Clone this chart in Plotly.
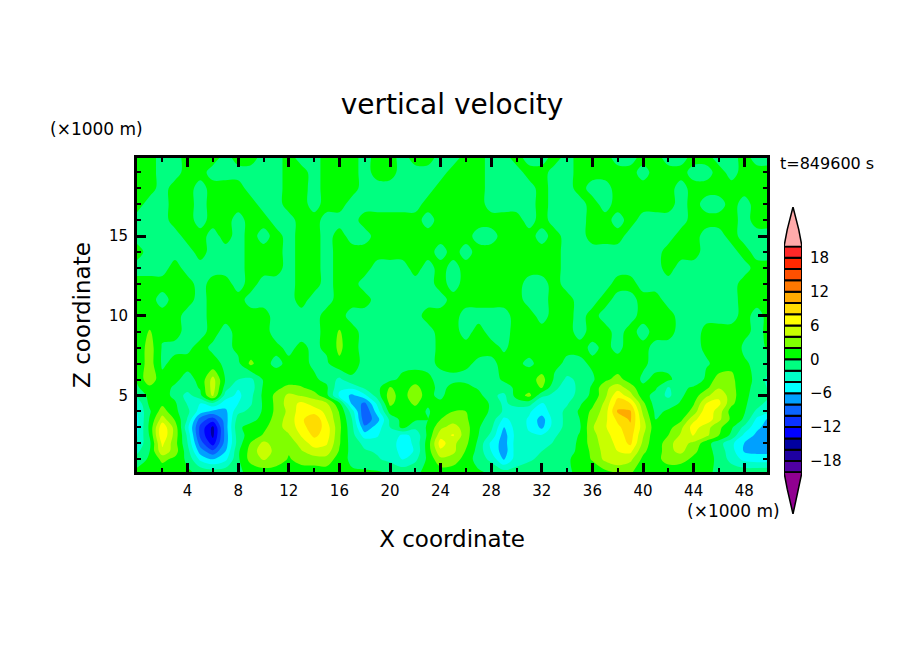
import plotly.graph_objects as go

# grid (km), closer rows where the cells are
x_km = list(range(51))
z_km = [0.2, 1, 1.5, 2, 2.5, 3, 3.5, 4, 4.5, 5, 5.5, 6, 7, 8, 9, 10, 11, 12, 13, 14, 15, 16, 17, 18, 19, 19.9]

# weak values, above and below the zero contour
g, s = 0.5, -0.5

w_rows = [
    [.5, .6, .8, .8, .3, -.5, -1, -.8, -.3, .5,
     1, 1, .8, 1, 1, 1, .5, .3, .3, .2,
     -.3, -.6, -.3, .4, 1, 1, .8, .3, -.4, -1.2,
     -1.3, -.8, -.6, -.5, -.2, .3, .8, 1.5, 2.3, 2.2,
     1.2, .8, .6, .5, .4, .2, -.2, -.6, -.8, -.6, -.5],
    [-1, .3, 2.5, 1.5, -.5, -4.5, -6, -4.5, -.3, 2.8,
     4.2, 3.2, 1.8, 2.8, 3, 3.2, 1, -.5, -1.2, -1.8,
     -2.5, -4.2, -2.5, .5, 3.5, 3, 1.2, -1, -2.5, -6.2,
     -3, -2.3, -1.5, -1.2, -.3, .8, 2.2, 4.5, 5.5, 4.5,
     1.5, 1.2, 3, 2.8, 1.5, .8, -.5, -2.8, -4.5, -5, -5],
    [-2.5, 0, 5.5, 3, -1.2, -7, -9.5, -6, -.3, 2.8,
     5.3, 3.3, 2.2, 3.8, 5.3, 5, 1.8, -.8, -1.8, -2.2,
     -2.5, -5, -3.8, 1, 5.5, 4.5, 1.8, -.8, -4, -7.2,
     -3, -2.5, -2, -1.5, -.8, .5, 2.5, 4.8, 6, 6.5,
     2.5, .5, 3.5, 4.5, 2.5, .8, -.8, -3.2, -6.2, -6.5, -6.5],
    [-3.5, -.5, 6.5, 2.8, -2, -9, -13, -7, -1, 2.2,
     4.5, 3.2, 2.5, 5, 6.8, 6.2, 2.2, -1, -2.5, -3.2,
     -2.8, -5.2, -3.5, 1, 7, 4.5, 2.5, -.5, -4.5, -7,
     -3, -3, -2.8, -1.8, -1.2, .5, 3, 5, 6.5, 8.5,
     3.5, .3, 3.5, 4.8, 3.5, .8, -1.2, -3.5, -6, -7.5, -7.5],
    [-4.2, .2, 7.8, 3.2, -2.5, -10.5, -14.5, -7.2, -.8, .8,
     2.2, 3.2, 3.8, 6.2, 8.5, 7, 2.3, -1.2, -5, -4.2,
     -2.2, -4.5, -3.5, .5, 5.2, 6.2, 2.8, 0, -2.5, -7,
     -3.2, -3.8, -3.8, -2.2, -1.3, .2, 3.3, 5.3, 7, 9,
     4.2, .3, 2, 4.3, 6.2, 4.5, 2, -.5, -4.5, -6.5, -7.2],
    [-4.5, .5, 7.5, 3.2, -3.5, -10.5, -14.5, -7, -.3, .6,
     1.5, 3.2, 4.8, 7, 9.5, 7, 2.5, -1.5, -7.5, -5,
     -2, .6, -1.5, .3, 3.5, 5, 2.8, .2, -1.5, -6.2,
     -3, -4.2, -6.5, -2.8, -1.5, -.3, 3.8, 5.8, 7.5, 9.5,
     5, .5, 1.2, 3.5, 7, 4.8, 2.5, .3, -2.5, -5.5, -7],
    [-4.5, .2, 5, 1.8, -2.2, -9, -11, -7, -1, -.5,
     .5, 3, 4.8, 7.5, 10, 6, 2.3, -2, -9.5, -6.8,
     -1.5, .7, .3, 0, 2, 3, 2.3, .6, -.8, -4.5,
     -3.2, -4.2, -7, -3, -1.5, 0, 3.2, 5.5, 8.5, 10.3,
     4.5, 0, .5, 1.5, 5.5, 7.5, 4.5, 1.5, -.3, -4.5, -6.5],
    [-4, -.3, 3, .5, -1.5, -5, -6.5, -6.5, -2.5, -1.5,
     .3, 2.5, 4.5, 7.2, 7, 5.5, 1.8, -3, -10, -5,
     .8, .8, .8, -.2, 1, 2, 2, 1, -.3, -2.3,
     -3.2, -3.8, -5, -3, -1.5, .3, 2.5, 5, 10.3, 10.3,
     3.5, -.5, .3, .5, 2.8, 7.5, 5, 1, .2, -2.5, -3.5],
    [-3.5, .5, 1.5, .3, -2.2, -4.2, -2.5, -5, -4, -2.2,
     .3, 2.5, 5, 6.5, 5.2, 4.2, .5, -6.5, -8.5, -3.5,
     2.5, .8, 2.5, .2, .3, 1.2, 1.8, 2, -.5, -2.4,
     -1.2, -1.2, -4.2, -3, -2.2, -.3, 1.5, 4.5, 9, 8,
     2.5, -1, -.8, .2, 1.8, 6, 6.5, 2.5, .3, -1, -3],
    [-1.5, .6, .8, -.5, -2.8, -.5, 4.5, -3, -4.5, -2.5,
     .5, 2.5, 4.5, 3.8, 3, .5, -4.5, -6.5, -4.5, -1,
     3, .8, 4, .3, -.3, .8, 1.5, .7, -1.5, -2.5,
     .8, 2.6, -1.5, -2.5, -3, -1.2, .5, 3.5, 7.5, 4.8,
     .8, -.7, -2.5, -.3, 1, 3.5, 5.5, 3, .3, -.5, -2],
    [-.3, 1.5, .5, -.2, -1, .2, 5, -1, -3.8, -3,
     .3, 1.5, 2.5, 2.2, 1, .3, -3.5, -3.5, -1.5, -.7,
     2.2, .8, 2.8, .5, -.4, .4, .6, -.3, -.8, -.8,
     .4, .8, 2.2, -1.5, -3, -1.5, .3, 3.5, 5, 3,
     .3, .3, -2.2, -.5, .3, 1.5, 3.8, 2.8, .3, -.3, -2.5],
    [.3, 3.5, .5, .3, -.5, .4, 4.8, -.2, -2, -2.5,
     .2, .8, 1, .8, .3, -.5, -2.5, -.3, -2, -.5,
     -.5, .5, .8, .3, -.5, -.3, -.5, -.6, -.8, .3,
     .5, 1, 2.8, -.3, -2.5, -1.5, -.3, 1.5, 2.8, 1,
     -.3, .4, .3, -.7, -1.8, .5, 3, 2.5, .5, -.3, -3],
    [.5, 3, -.3, .5, .5, .3, .5, -.3, -.4, 2.5,
     .4, -.3, .3, .5, -.3, -.3, 1.5, .7, -.5, -.5,
     -.6, -.6, -.5, -.4, .3, .4, .3, -.3, -.4, .5,
     .3, -.3, .5, .4, -.3, -.4, .3, .5, .5, .4,
     .3, -.5, -.5, -.8, -1, -.2, .5, 1.5, .3, -.5, -.6],
    [.4, 3, -.2, -.4, -.3, .5, -.3, -.5, .4, .5,
     .4, .3, -.3, .3, -.3, .3, 2.5, .5, -.5, -.5,
     -.5, -.5, -.5, -.6, .4, .5, .5, .5, .5, -.2,
     .5, .5, .5, .4, .3, .5, -.3, .3, -.3, .5,
     .4, -.4, -.5, -.7, -.5, .3, .4, 1.5, -.4, -.6, .3],
    [g, 2.2, g, g, s, s, g, s, g, g,
     g, s, s, s, s, g, 2.2, g, s, s,
     s, s, s, s, g, g, s, g, s, s,
     g, g, g, g, g, s, g, g, s, g,
     s, g, g, s, -.8, g, g, g, g, s, g],
    [g, g, g, g, s, s, g, g, g, g,
     g, s, s, s, s, g, g, s, s, s,
     s, s, s, g, g, g, s, s, s, s,
     g, g, s, g, g, s, g, s, s, s,
     g, g, g, s, s, s, s, s, g, s, g],
    [g, g, s, g, g, s, g, g, g, s,
     s, s, s, g, s, s, g, g, g, s,
     s, s, s, s, s, g, g, g, g, g,
     g, s, s, g, g, s, s, g, s, s,
     g, g, s, s, s, s, s, s, g, g, g],
    [g, g, g, g, g, s, g, g, s, g,
     s, s, s, g, g, s, g, g, s, s,
     s, s, s, s, g, s, g, g, g, g,
     g, s, s, g, s, s, s, s, g, g,
     s, s, s, s, s, s, s, s, g, g, g],
    [s, s, s, g, s, s, s, s, s, g,
     g, g, s, g, g, s, g, g, g, s,
     s, s, g, s, g, s, g, g, g, g,
     g, g, g, g, s, s, s, s, s, s,
     s, s, g, s, s, s, s, s, s, g, g],
    [g, s, s, s, s, g, s, s, s, g,
     g, g, s, g, g, s, g, g, g, g,
     g, g, g, g, s, g, s, g, g, g,
     g, g, g, g, s, s, s, s, s, s,
     s, s, g, g, g, s, s, s, g, s, s],
    [s, s, s, s, g, g, s, g, s, g,
     s, g, s, g, g, s, g, s, s, g,
     g, g, g, g, g, g, g, s, s, g,
     g, g, s, g, s, s, g, g, g, s,
     s, s, s, g, g, s, s, g, s, s, s],
    [s, s, s, g, g, s, g, g, s, g,
     g, s, s, g, g, s, s, s, g, g,
     g, g, g, s, g, g, g, g, g, g,
     g, s, g, s, s, s, g, g, s, g,
     s, s, s, s, g, g, g, g, s, g, g],
    [g, s, s, g, g, s, g, g, g, g,
     s, s, g, g, s, g, g, s, s, s,
     s, s, s, g, g, g, g, g, s, s,
     s, s, g, s, s, s, g, s, g, g,
     g, g, g, s, g, s, s, g, s, g, g],
    [g, g, s, g, g, s, g, g, g, s,
     s, s, g, g, s, g, g, g, s, s,
     s, s, s, s, g, g, g, g, s, s,
     s, s, g, s, s, g, s, s, g, g,
     g, g, g, s, g, g, g, g, g, g, g],
    [g, g, s, s, g, g, s, s, s, s,
     s, s, g, g, s, g, g, g, s, g,
     g, s, s, s, s, g, g, g, s, s,
     s, g, g, s, s, g, g, g, g, g,
     s, g, g, g, s, s, g, s, g, g, g],
    [g, g, s, s, g, g, g, s, g, g,
     s, s, g, s, s, g, g, g, s, g,
     g, s, g, g, s, s, g, g, s, s,
     g, s, s, g, s, g, g, g, s, s,
     g, g, s, s, g, g, s, s, g, s, s],
]

# contour levels and their colours, low to high
levels = list(range(-20, 21, 2))
band_colors = ['#5000a0', '#1e00a0', '#0000a0', '#0000ff', '#0a32ff',
               '#0a64ff', '#00a0ff', '#00ffff', '#00ffc8', '#00ff80',
               '#00ff00', '#80ff00', '#c8ff00', '#ffff00', '#ffdc00',
               '#ffaa00', '#ff7800', '#ff5000', '#ff2800', '#ff2828']
over_color = '#ffaaaa'
under_color = '#900090'

x_ticks = [4, 8, 12, 16, 20, 24, 28, 32, 36, 40, 44, 48]
z_ticks = [5, 10, 15]
bar_ticks = [-18, -12, -6, 0, 6, 12, 18]

# page body has an 8 px margin, so the figure is that much smaller
W, H = 888, 638
font = 'DejaVu Sans'


def px(v):
    return (v - 8) / W


def py(v):
    return 1 - (v - 8) / H


# stepped colorscale so each band keeps one colour
n = len(band_colors)
colorscale = []
for i, c in enumerate(band_colors):
    colorscale.append([i / n, c])
    colorscale.append([(i + 1) / n, c])

fig = go.Figure()

fig.add_trace(go.Contour(
    x=x_km, y=z_km, z=w_rows,
    zmin=-20, zmax=20, autocontour=False,
    contours=dict(start=-20, end=20, size=2, coloring='fill', showlines=False),
    line=dict(width=0, smoothing=1),
    colorscale=colorscale, showscale=False, hoverinfo='skip',
))

# colour key on the right
fig.add_trace(go.Bar(
    x=[0] * n, y=[2] * n, base=levels[:-1], width=1,
    marker=dict(color=band_colors, line=dict(color='black', width=2)),
    xaxis='x2', yaxis='y2', showlegend=False, hoverinfo='skip',
))
fig.add_trace(go.Scatter(
    x=[-.5, -.32, 0, .32, .5, -.5], y=[20, 23, 27, 23, 20, 20],
    mode='lines', fill='toself', fillcolor=over_color,
    line=dict(color='black', width=1.5),
    xaxis='x2', yaxis='y2', showlegend=False, hoverinfo='skip',
))
fig.add_trace(go.Scatter(
    x=[-.5, -.32, 0, .32, .5, -.5], y=[-20, -23, -27.4, -23, -20, -20],
    mode='lines', fill='toself', fillcolor=under_color,
    line=dict(color='black', width=1.5),
    xaxis='x2', yaxis='y2', showlegend=False, hoverinfo='skip',
))

fig.update_layout(
    width=W, height=H, margin=dict(l=0, r=0, t=0, b=0),
    paper_bgcolor='white', plot_bgcolor='white',
    font=dict(family=font, color='black', size=15),
    showlegend=False,
    xaxis=dict(
        domain=[px(137), px(767)], range=[0, 49.8],
        tickvals=x_ticks, ticks='inside', ticklen=9, tickwidth=2.5, tickcolor='black',
        minor=dict(tickvals=list(range(2, 50, 4)), ticks='inside', ticklen=4, tickwidth=1.5, tickcolor='black'),
        showline=True, linecolor='black', linewidth=3, mirror='ticks',
        showgrid=False, zeroline=False, tickfont=dict(size=15), ticklabelstandoff=3,
        title=dict(text='X coordinate', font=dict(size=23), standoff=32),
    ),
    yaxis=dict(
        domain=[py(472), py(158)], range=[0.2, 19.9],
        tickvals=z_ticks, ticks='inside', ticklen=9, tickwidth=2.5, tickcolor='black',
        minor=dict(tickvals=[i for i in range(1, 20) if i % 5], ticks='inside', ticklen=4, tickwidth=1.5, tickcolor='black'),
        showline=True, linecolor='black', linewidth=3, mirror='ticks',
        showgrid=False, zeroline=False, tickfont=dict(size=15), ticklabelstandoff=3,
        title=dict(text='Z coordinate', font=dict(size=23), standoff=12),
    ),
    xaxis2=dict(domain=[px(784), px(802)], range=[-.5, .5], visible=False, anchor='y2'),
    yaxis2=dict(
        domain=[py(514), py(207)], range=[-27.4, 27],
        anchor='x2', side='right', tickvals=bar_ticks, ticks='', showline=False,
        showgrid=False, zeroline=False, tickfont=dict(size=15), ticklabelstandoff=7,
    ),
    title=dict(text='vertical velocity', x=px(452), xanchor='center', y=py(104), yanchor='middle',
               font=dict(size=28)),
    annotations=[
        dict(text='(×1000 m)', xref='paper', yref='paper', x=px(96), y=py(129), xanchor='center', yanchor='middle',
             showarrow=False, font=dict(size=17)),
        dict(text='(×1000 m)', xref='paper', yref='paper', x=px(733), y=py(511), xanchor='center', yanchor='middle',
             showarrow=False, font=dict(size=17)),
        dict(text='t=849600 s', xref='paper', yref='paper', x=px(827), y=py(163), xanchor='center', yanchor='middle',
             showarrow=False, font=dict(size=16)),
    ],
)

fig.write_html("out.html")
